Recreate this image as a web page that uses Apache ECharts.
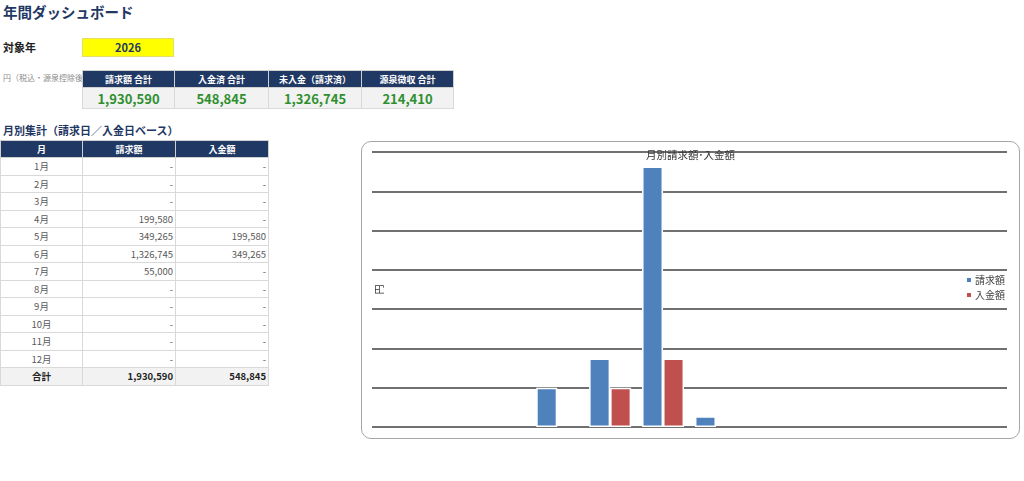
<!DOCTYPE html>
<html lang="ja">
<head>
<meta charset="utf-8">
<title>年間ダッシュボード</title>
<script src="https://cdn.jsdelivr.net/npm/echarts@6/dist/echarts.min.js"></script>
<style>
    body { margin: 0; background: #fff; font-family: "Noto Sans CJK JP", "Noto Sans", sans-serif; width: 1024px; height: 481px; position: relative; overflow: hidden; }
    .abs { position: absolute; }
    #title { left: 3px; top: 3px; font-size: 14.5px; font-weight: bold; color: #1f3864; line-height: 18px; }
    #yearLabel { left: 3px; top: 40px; font-size: 11px; font-weight: bold; color: #222; line-height: 14px; }
    #yearBox { left: 82px; top: 38px; width: 92px; height: 19px; background: #ffff00; box-sizing: border-box; border: 1px solid #e6dc6a; text-align: center; font-size: 11px; font-weight: bold; color: #1f3864; line-height: 17px; }
    #note { left: 3px; top: 72px; font-size: 8px; color: #8c8c8c; line-height: 12px; white-space: nowrap; }
    table { border-collapse: collapse; table-layout: fixed; position: absolute; background: #fff; }
    th { background: #1f3864; color: #fff; font-weight: bold; font-size: 9px; padding: 0; text-align: center; border: 1px solid #d0d0d0; }
    td { padding: 0; border: 1px solid #d9d9d9; font-size: 9.5px; color: #595959; }
    #kpi { left: 82px; top: 70px; width: 371px; }
    #kpi th { height: 16px; }
    #kpi td { height: 20px; background: #f2f2f2; text-align: center; font-size: 13px; font-weight: bold; color: #2f8f2f; }
    #subtitle { left: 3px; top: 123px; font-size: 11px; font-weight: bold; color: #1f3864; line-height: 14px; }
    #monthly { left: 0px; top: 140px; width: 268px; }
    #monthly th { height: 16px; }
    #monthly td { height: 16.5px; }
    #monthly td.m { text-align: center; }
    #monthly td.v { text-align: right; padding-right: 2px; }
    #monthly tr.total td { background: #f2f2f2; font-weight: bold; color: #222; }
    #chart { left: 361px; top: 141px; width: 659px; height: 298px; box-sizing: border-box; border: 1.5px solid #a6a6a6; border-radius: 10px; background: #fff; }
</style>
</head>
<body>
<div class="abs" id="title">年間ダッシュボード</div>
<div class="abs" id="yearLabel">対象年</div>
<div class="abs" id="yearBox"></div>
<div class="abs" id="note">円（税込・源泉控除後）</div>
<table id="kpi"></table>
<div class="abs" id="subtitle">月別集計（請求日／入金日ベース）</div>
<table id="monthly"></table>
<div class="abs" id="chart"></div>
<script>
    // データ
    const targetYear = 2026;
    const kpiLabels = ['請求額 合計', '入金済 合計', '未入金（請求済）', '源泉徴収 合計'];
    const kpiValues = [1930590, 548845, 1326745, 214410];
    const months = ['1月', '2月', '3月', '4月', '5月', '6月', '7月', '8月', '9月', '10月', '11月', '12月'];
    const billed = [0, 0, 0, 199580, 349265, 1326745, 55000, 0, 0, 0, 0, 0];
    const received = [0, 0, 0, 0, 199580, 349265, 0, 0, 0, 0, 0, 0];
    const billedTotal = 1930590;
    const receivedTotal = 548845;

    function fmt(v) {
        // Excelの会計表示: 0は "-"
        return v === 0 ? '-' : v.toLocaleString('en-US');
    }

    document.getElementById('yearBox').textContent = targetYear;

    // KPI表
    let kpiHtml = '<colgroup><col style="width:92px"><col style="width:94px"><col style="width:93px"><col style="width:92px"></colgroup><tr>';
    for (let i = 0; i < kpiLabels.length; i++) kpiHtml += '<th>' + kpiLabels[i] + '</th>';
    kpiHtml += '</tr><tr>';
    for (let i = 0; i < kpiValues.length; i++) kpiHtml += '<td>' + fmt(kpiValues[i]) + '</td>';
    kpiHtml += '</tr>';
    document.getElementById('kpi').innerHTML = kpiHtml;

    // 月別表
    let mHtml = '<colgroup><col style="width:82px"><col style="width:93px"><col style="width:93px"></colgroup>';
    mHtml += '<tr><th>月</th><th>請求額</th><th>入金額</th></tr>';
    for (let i = 0; i < months.length; i++) {
        mHtml += '<tr><td class="m">' + months[i] + '</td><td class="v">' + fmt(billed[i]) + '</td><td class="v">' + fmt(received[i]) + '</td></tr>';
    }
    mHtml += '<tr class="total"><td class="m">合計</td><td class="v">' + fmt(billedTotal) + '</td><td class="v">' + fmt(receivedTotal) + '</td></tr>';
    document.getElementById('monthly').innerHTML = mHtml;

    // グラフ
    let myChart = echarts.init(document.getElementById('chart'));
    const toBar = arr => arr.map(v => v === 0 ? '-' : v);
    const barBorder = { borderColor: '#ffffff', borderWidth: 1.5 };
    const option = {
        animation: false,
        textStyle: { fontFamily: '"Noto Sans CJK JP", sans-serif' },
        title: {
            text: '月別請求額･入金額',
            left: 'center',
            top: 8,
            padding: 0,
            textStyle: { fontSize: 10.5, fontWeight: 'normal', color: '#333' }
        },
        legend: {
            orient: 'vertical',
            right: 9,
            top: 128,
            itemWidth: 6,
            itemHeight: 6,
            itemGap: 5,
            icon: 'rect',
            textStyle: { fontSize: 10, color: '#404040', padding: [0, 0, 0, -2] },
            data: ['請求額', '入金額']
        },
        grid: { left: 10, right: 12, top: 10, bottom: 11, containLabel: false },
        xAxis: {
            type: 'category',
            data: months,
            axisLabel: { show: false },
            axisLine: { show: false },
            axisTick: { show: false }
        },
        yAxis: {
            type: 'value',
            min: 0,
            max: 1400000,
            interval: 200000,
            name: '円',
            nameLocation: 'middle',
            nameRotate: 90,
            nameGap: -12,
            nameTextStyle: { fontSize: 10, color: '#333' },
            axisLabel: { show: false },
            axisLine: { show: false },
            axisTick: { show: false },
            splitLine: { lineStyle: { color: '#404040', width: 1.5 } }
        },
        series: [
            {
                name: '請求額',
                type: 'bar',
                barWidth: 21,
                barGap: '0%',
                itemStyle: Object.assign({ color: '#4f81bd' }, barBorder),
                data: toBar(billed)
            },
            {
                name: '入金額',
                type: 'bar',
                barWidth: 21,
                itemStyle: Object.assign({ color: '#c0504d' }, barBorder),
                data: toBar(received)
            }
        ]
    };
    myChart.setOption(option);
</script>
</body>
</html>
